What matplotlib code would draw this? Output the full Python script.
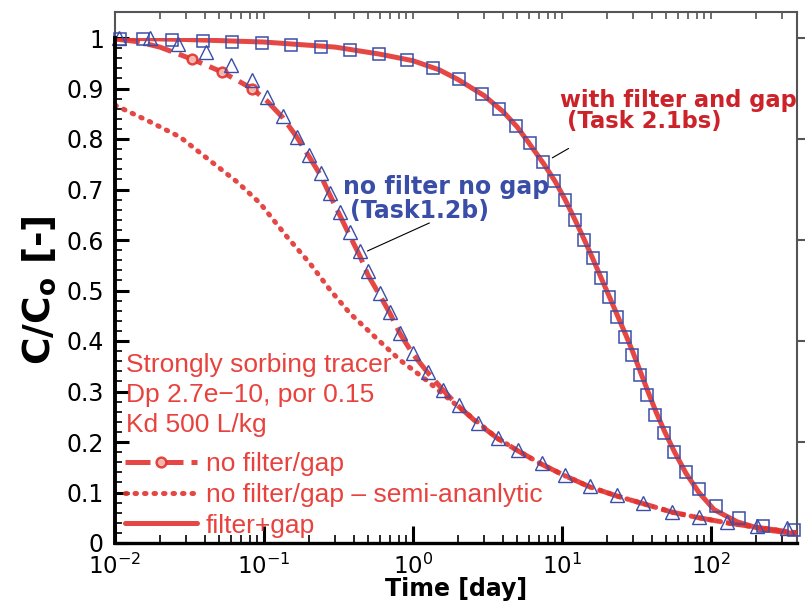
import matplotlib
matplotlib.use("Agg")
import matplotlib.pyplot as plt
from matplotlib.ticker import MultipleLocator, LogLocator, NullFormatter

plt.rcParams['font.family'] = ['DejaVu Sans']
plt.rcParams['mathtext.fontset'] = 'dejavusans'
plt.rcParams['mathtext.default'] = 'regular'

# with filter and gap (Task 2.1bs) - squares
sq_t = [0.0108, 0.0154, 0.0241, 0.039, 0.061, 0.097, 0.152, 0.241, 0.377, 0.591,
        0.912, 1.36, 2.04, 2.90, 3.78, 4.91, 6.10, 7.45, 8.83, 10.5, 12.2, 14.1,
        16.1, 18.3, 20.7, 23.4, 26.5, 29.5, 33.4, 37.2, 42.1, 48.4, 56.5, 68.0,
        83.0, 108, 154, 223, 360]
sq_c = [0.998, 0.998, 0.996, 0.994, 0.992, 0.990, 0.986, 0.982, 0.976, 0.968,
        0.956, 0.941, 0.919, 0.889, 0.859, 0.826, 0.792, 0.754, 0.717, 0.679,
        0.640, 0.600, 0.564, 0.525, 0.487, 0.448, 0.408, 0.372, 0.333, 0.293,
        0.253, 0.218, 0.180, 0.141, 0.107, 0.073, 0.050, 0.034, 0.026]

# no filter no gap (Task1.2b) - triangles
tri_t = [0.0106, 0.0172, 0.0265, 0.0408, 0.0601, 0.083, 0.105, 0.134, 0.166,
         0.200, 0.241, 0.278, 0.324, 0.377, 0.441, 0.499, 0.601, 0.701, 0.819,
         1.0, 1.26, 1.59, 2.04, 2.73, 3.72, 5.07, 7.34, 10.5, 15.4, 23.4, 35.0,
         54.7, 83.0, 128, 204, 324]
tri_c = [1.0, 1.0, 0.988, 0.972, 0.947, 0.917, 0.883, 0.846, 0.804, 0.768,
         0.732, 0.693, 0.655, 0.615, 0.578, 0.539, 0.495, 0.457, 0.416, 0.376,
         0.339, 0.303, 0.273, 0.238, 0.208, 0.184, 0.158, 0.135, 0.113, 0.095,
         0.079, 0.061, 0.051, 0.042, 0.034, 0.030]

# filter+gap - solid line
fg_t = [0.01, 0.03, 0.1, 0.3, 0.6, 1.0, 1.5, 2.0, 3.0, 4.0, 5.0, 6.0, 7.5, 9.0,
        10.5, 12.0, 14.0, 16.0, 18.5, 21.0, 24.0, 27.0, 30.0, 34.0, 38.0, 43.0,
        49.0, 57.0, 68.0, 83.0, 105, 150, 220, 378]
fg_c = [1.0, 0.997, 0.992, 0.982, 0.968, 0.955, 0.937, 0.918, 0.886, 0.855,
        0.824, 0.792, 0.752, 0.716, 0.680, 0.645, 0.603, 0.565, 0.522, 0.485,
        0.445, 0.410, 0.377, 0.335, 0.298, 0.258, 0.220, 0.180, 0.138, 0.100,
        0.066, 0.042, 0.027, 0.018]

# no filter/gap - dashed with circles
nf_t = [0.01, 0.014, 0.02, 0.0329, 0.052, 0.083, 0.105, 0.134, 0.166, 0.2,
        0.241, 0.278, 0.324, 0.377, 0.441, 0.5, 0.6, 0.7, 0.82, 1.0, 1.26, 1.6,
        2.0, 2.7, 3.7, 5.1, 7.3, 10.5, 15.4, 23.4, 35, 55, 83, 128, 204, 378]
nf_c = [0.998, 0.993, 0.982, 0.958, 0.933, 0.900, 0.875, 0.842, 0.804, 0.766,
        0.727, 0.688, 0.648, 0.608, 0.568, 0.530, 0.490, 0.455, 0.414, 0.374,
        0.337, 0.302, 0.272, 0.238, 0.207, 0.182, 0.156, 0.133, 0.111, 0.093,
        0.078, 0.061, 0.050, 0.040, 0.031, 0.020]

# no filter/gap - semi-analytic (dotted)
sa_t = [0.01, 0.0172, 0.0273, 0.0414, 0.066, 0.094, 0.143, 0.203, 0.278, 0.377,
        0.556, 0.82, 1.2, 1.78, 2.7, 3.7, 5.1, 7.3, 10.5, 15.4, 23.4, 35, 55,
        83, 128, 204, 378]
sa_c = [0.867, 0.834, 0.804, 0.762, 0.715, 0.673, 0.606, 0.554, 0.501, 0.455,
        0.408, 0.362, 0.325, 0.283, 0.240, 0.207, 0.182, 0.156, 0.133, 0.111,
        0.093, 0.078, 0.061, 0.050, 0.040, 0.031, 0.020]

ytick_vals = [0, 0.1, 0.2, 0.3, 0.4, 0.5, 0.6, 0.7, 0.8, 0.9, 1.0]
ytick_labels = ['0', '0.1', '0.2', '0.3', '0.4', '0.5', '0.6', '0.7', '0.8',
                '0.9', '1']

RED = '#e2332f'
TXT_RED = '#e8423e'
BLUE = '#3a4ea8'
GRAY = '#555555'
XMAX = 378

fig = plt.figure(figsize=(8.06, 6.01), dpi=100)
L, R = 115 / 806, 797 / 806
B = 1 - 543 / 601
T1 = 1 - 38 / 601
TF = 1 - 12 / 601

# gray background frame
ax0 = fig.add_axes([L, B, R - L, TF - B])
ax0.set_xscale('log')
ax0.set_xlim(0.01, XMAX)
ax0.set_ylim(0, 1.0515)
for s in ['top', 'right', 'left']:
    ax0.spines[s].set_color(GRAY)
    ax0.spines[s].set_linewidth(1.5)
ax0.spines['bottom'].set_visible(False)
ax0.xaxis.set_ticks_position('top')
ax0.xaxis.set_minor_locator(LogLocator(base=10, subs=range(2, 10)))
ax0.xaxis.set_major_formatter(NullFormatter())
ax0.xaxis.set_minor_formatter(NullFormatter())
ax0.tick_params(axis='x', which='both', direction='in', length=5, width=1.2,
                color=GRAY)
ax0.yaxis.set_ticks_position('right')
ax0.set_yticks([0.2, 0.4, 0.6, 0.8, 1.0])
ax0.yaxis.set_major_formatter(NullFormatter())
ax0.tick_params(axis='y', which='both', direction='out', length=6, width=1.5,
                color=GRAY)

# main axes
ax = fig.add_axes([L, B, R - L, T1 - B])
ax.patch.set_alpha(0)
ax.set_xscale('log')
ax.set_xlim(0.01, XMAX)
ax.set_ylim(0, 1)
ax.spines['top'].set_visible(False)
ax.spines['right'].set_visible(False)
ax.spines['left'].set_linewidth(2.8)
ax.spines['bottom'].set_linewidth(2.4)

ax.plot(sa_t, sa_c, color=RED, lw=3.6, linestyle=(0, (0.3, 1.6)),
        dash_capstyle='round', alpha=0.9, label='no filter/gap \u2013 semi-ananlytic')
ax.plot(nf_t, nf_c, color=RED, lw=3.6, linestyle=(0, (5, 1.6)), alpha=0.9,
        marker='o', ms=7, mfc='#f6c4bc', mec=RED, mew=1.8, markevery=[3, 4, 5],
        label='no filter/gap')
ax.plot(fg_t, fg_c, color=RED, lw=3.6, alpha=0.9, label='filter+gap',
        solid_capstyle='round')
ax.plot(sq_t, sq_c, linestyle='none', marker='s', ms=9, mfc='none', mec=BLUE,
        mew=1.1, clip_on=False)
ax.plot(tri_t, tri_c, linestyle='none', marker='^', ms=10, mfc='none', mec=BLUE,
        mew=1.0, clip_on=False)

ax.yaxis.set_minor_locator(MultipleLocator(0.02))
ax.set_yticks(ytick_vals)
ax.set_yticklabels(ytick_labels)
ax.xaxis.set_minor_locator(LogLocator(base=10, subs=range(2, 10)))
ax.xaxis.set_minor_formatter(NullFormatter())
ax.tick_params(axis='y', which='major', direction='in', length=10, width=2.2,
               labelsize=17, pad=8)
ax.tick_params(axis='y', which='minor', direction='in', length=5, width=1.2)
ax.tick_params(axis='x', which='major', direction='in', length=12, width=2.2,
               labelsize=16.5, pad=8)
ax.tick_params(axis='x', which='minor', direction='in', length=6, width=1.2)

ax.set_xlabel('Time [day]', fontsize=17, fontweight='bold', labelpad=-2)
ax.set_ylabel(r'C/C$_\mathregular{o}$ [-]', fontsize=27, fontweight='bold',
              labelpad=6)

# annotations
ax.annotate('', xy=(0.476, 0.576), xytext=(1.34, 0.636),
            arrowprops=dict(arrowstyle='-', color='black', lw=0.8))
ax.text(0.339, 0.705, 'no filter no gap', color=BLUE, fontsize=17,
        fontweight='bold', ha='left', va='center')
ax.text(0.375, 0.658, '(Task1.2b)', color=BLUE, fontsize=17,
        fontweight='bold', ha='left', va='center')
ax.annotate('', xy=(8.3, 0.760), xytext=(11.5, 0.784),
            arrowprops=dict(arrowstyle='-', color='black', lw=0.8))
ax.text(9.7, 0.877, 'with filter and gap', color='#cc2229', fontsize=16.3,
        fontweight='bold', ha='left', va='center')
ax.text(10.8, 0.834, '(Task 2.1bs)', color='#cc2229', fontsize=16.3,
        fontweight='bold', ha='left', va='center')

ax.text(0.0118, 0.293, 'Strongly sorbing tracer\nDp 2.7e\u221210, por 0.15\nKd 500 L/kg',
        color=TXT_RED, fontsize=19, ha='left', va='center', linespacing=1.3,
        family='Liberation Sans')

h = ax.get_legend_handles_labels()
order = [1, 0, 2]
ax.legend([h[0][i] for i in order], [h[1][i] for i in order],
          loc='lower left', bbox_to_anchor=(-0.012, -0.026), frameon=False,
          prop={'family': 'Liberation Sans', 'size': 19}, handlelength=2.7,
          handletextpad=0.35, labelspacing=0.25, labelcolor=TXT_RED,
          borderpad=0.2)

fig.savefig('out.png', dpi=100)
